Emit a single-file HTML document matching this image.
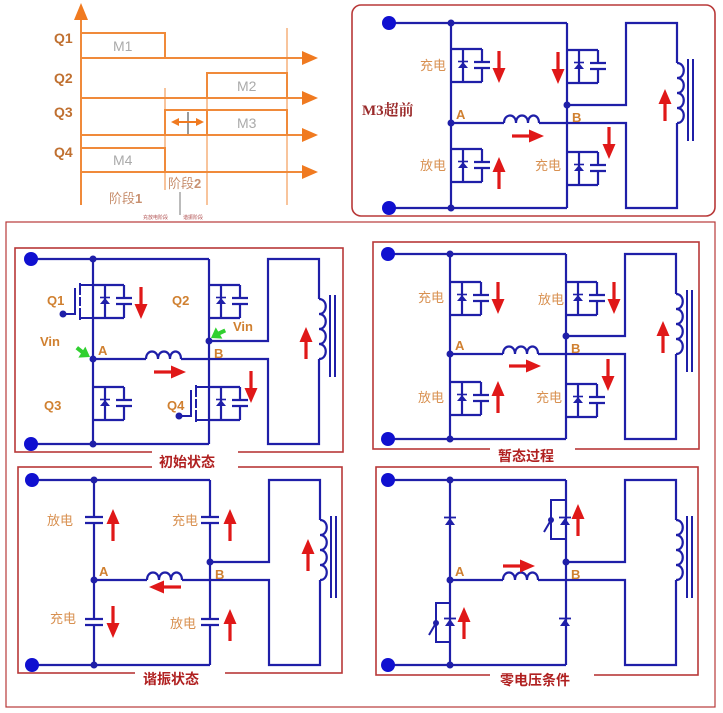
<!DOCTYPE html>
<html><head><meta charset="utf-8">
<style>
html,body{margin:0;padding:0;background:#fff;}
svg{display:block;}
.w{stroke:#1f1fa8;stroke-width:2.2;fill:none;}
.o{font-family:"Liberation Sans","Noto Sans CJK SC",sans-serif;fill:#d89050;font-size:13px;}
.ob{font-family:"Liberation Sans","Noto Sans CJK SC",sans-serif;fill:#d08030;font-size:13px;font-weight:bold;}
.rt{font-family:"Liberation Sans","Noto Sans CJK SC",sans-serif;fill:#b02020;font-size:14px;font-weight:bold;}
.fr{stroke:#b83838;stroke-width:1.6;fill:none;}
.t{stroke:#f08a3a;fill:none;}
</style></head><body>
<svg width="723" height="713" viewBox="0 0 723 713" xmlns="http://www.w3.org/2000/svg">
<defs>
  <g id="sk">
    <path class="w" d="M0,0H178M0,185H178M62,0V185M178,0V185M62,100H115M150,100H237V185H288V100M288,40V0H237V82H178"/>
    <path class="w" d="M115,100c0,-10 12,-10 12,0c0,-10 12,-10 12,0c0,-10 11,-10 11,0"/>
    <path class="w" d="M288,40c9,0 9,15 0,15c9,0 9,15 0,15c9,0 9,15 0,15c9,0 9,15 0,15"/>
    <path class="w" d="M299,36V118M304,36V118" style="stroke-width:2"/>
    <circle cx="0" cy="0" r="7" fill="#1010d0"/>
    <circle cx="0" cy="185" r="7" fill="#1010d0"/>
    <circle cx="62" cy="0" r="3.5" fill="#1f1fa8"/>
    <circle cx="62" cy="185" r="3.5" fill="#1f1fa8"/>
    <circle cx="62" cy="100" r="3.5" fill="#1f1fa8"/>
    <circle cx="178" cy="82" r="3.5" fill="#1f1fa8"/>
    <text x="67" y="96" class="ob">A</text>
    <text x="183" y="99" class="ob">B</text>
  </g>
  <g id="cell">
    <path class="w" d="M0,0H31M0,33H31M12,0V33M31,0V13M23,13H39M23,19H39M31,19V33"/>
    <polygon points="7,19 17,19 12,13" fill="#1f1fa8"/>
    <path class="w" d="M7,12.5H17" style="stroke-width:1.6"/>
  </g>
  <g id="dio">
    <polygon points="-5,3 5,3 0,-4" fill="#1f1fa8"/>
    <path class="w" d="M-6,-4.5H6" style="stroke-width:1.8"/>
  </g>
  <g id="cap">
    <rect x="-3" y="-3" width="6" height="6" fill="#fff"/>
    <path class="w" d="M-9,-3H9M-9,3H9"/>
  </g>
  <g id="au">
    <rect x="-1.6" y="10" width="3.2" height="21" fill="#e01818"/>
    <polygon points="-6.5,14 6.5,14 0,-1" fill="#e01818"/>
  </g>
  <g id="ga">
    <path d="M-16,-2L-5,0" stroke="#30d030" stroke-width="4"/>
    <polygon points="0,0 -9,-7 -10,6" fill="#30d030"/>
  </g>
</defs>

<!-- timing diagram -->
<g>
  <rect x="81" y="33" width="84" height="25" fill="#c9f2cc" class="t" stroke-width="2"/>
  <rect x="207" y="73" width="80" height="25" fill="#c8f2f2" class="t" stroke-width="2"/>
  <rect x="207" y="110" width="80" height="25" fill="#c8f2f2" class="t" stroke-width="2"/>
  <rect x="165" y="110" width="42" height="25" fill="#fbeea0" class="t" stroke-width="2"/>
  <rect x="81" y="148" width="84" height="24" fill="#c9f2cc" class="t" stroke-width="2"/>
  <path class="t" stroke-width="2" d="M81,205V18M81,58H305M81,98H305M81,135H305M81,172H305"/>
  <polygon points="74,20 88,20 81,3" fill="#f07a20"/>
  <polygon points="302,51 302,65 318,58" fill="#f07a20"/>
  <polygon points="302,91 302,105 318,98" fill="#f07a20"/>
  <polygon points="302,128 302,142 318,135" fill="#f07a20"/>
  <polygon points="302,165 302,179 318,172" fill="#f07a20"/>
  <path class="t" stroke-width="1" d="M165,88V190M207,78V205M287,28V205"/>
  <path d="M188,112V134" stroke="#333" stroke-width="1"/>
  <path d="M175,122H200" stroke="#f07a20" stroke-width="2"/>
  <polygon points="171,122 179,118 179,126" fill="#f07a20"/>
  <polygon points="204,122 196,118 196,126" fill="#f07a20"/>
  <path d="M180,192V215" stroke="#555" stroke-width="0.8"/>
  <text x="113" y="51" class="o" style="fill:#aaa;font-size:14px">M1</text>
  <text x="237" y="91" class="o" style="fill:#aaa;font-size:14px">M2</text>
  <text x="237" y="128" class="o" style="fill:#aaa;font-size:14px">M3</text>
  <text x="113" y="165" class="o" style="fill:#aaa;font-size:14px">M4</text>
  <text x="54" y="43" class="ob" style="fill:#c07030;font-size:14px">Q1</text>
  <text x="54" y="83" class="ob" style="fill:#c07030;font-size:14px">Q2</text>
  <text x="54" y="117" class="ob" style="fill:#c07030;font-size:14px">Q3</text>
  <text x="54" y="157" class="ob" style="fill:#c07030;font-size:14px">Q4</text>
  <text x="109" y="203" class="o" style="fill:#c89070">阶段<tspan font-weight="bold">1</tspan></text>
  <text x="168" y="188" class="o" style="fill:#c89070">阶段<tspan font-weight="bold">2</tspan></text>
  <text x="143" y="219" class="o" style="font-size:5px;fill:#b05050">充放电阶段</text>
  <text x="183" y="219" class="o" style="font-size:5px;fill:#b05050">谐振阶段</text>
</g>

<!-- frames -->
<rect x="352" y="5" width="363" height="211" rx="9" class="fr"/>
<rect x="6" y="222" width="709" height="485" class="fr" style="stroke-width:1.2"/>
<rect x="15" y="248" width="328" height="204" class="fr"/>
<rect x="373" y="242" width="326" height="207" class="fr"/>
<rect x="18" y="467" width="324" height="206" class="fr"/>
<rect x="376" y="467" width="322" height="208" class="fr"/>
<rect x="152" y="450" width="86" height="20" fill="#fff"/>
<rect x="490" y="446" width="85" height="20" fill="#fff"/>
<rect x="135" y="668" width="90" height="20" fill="#fff"/>
<rect x="490" y="668" width="104" height="20" fill="#fff"/>
<text x="159" y="467" class="rt">初始状态</text>
<text x="498" y="461" class="rt">暂态过程</text>
<text x="143" y="684" class="rt">谐振状态</text>
<text x="500" y="685" class="rt">零电压条件</text>

<!-- M3 panel -->
<g transform="translate(389,23)">
  <use href="#sk"/>
  <use href="#cell" transform="translate(62,26)"/>
  <use href="#cell" transform="translate(62,126)"/>
  <use href="#cell" transform="translate(178,27)"/>
  <use href="#cell" transform="translate(178,129)"/>
</g>
<use href="#au" transform="translate(499,82) rotate(180)"/>
<use href="#au" transform="translate(558,83) rotate(180)"/>
<use href="#au" transform="translate(499,158)"/>
<use href="#au" transform="translate(609,158) rotate(180)"/>
<use href="#au" transform="translate(543,136) rotate(90)"/>
<use href="#au" transform="translate(665,90)"/>
<text x="420" y="70" class="o">充电</text>
<text x="420" y="170" class="o">放电</text>
<text x="535" y="170" class="o">充电</text>
<text x="362" y="115" style="font-family:'Liberation Serif','Noto Serif CJK SC',serif;font-size:15px;font-weight:bold;fill:#9a2a2a">M3超前</text>

<!-- 初始状态 -->
<g transform="translate(31,259)">
  <use href="#sk"/>
  <use href="#cell" transform="translate(62,26)"/>
  <use href="#cell" transform="translate(62,128)"/>
  <use href="#cell" transform="translate(178,26)"/>
  <use href="#cell" transform="translate(178,128)"/>
  <path class="w" d="M62,26H49M62,59H49M49,24V36M49,38V47M49,49V61M44,29V56M32,55H44" style="stroke-width:2"/>
  <circle cx="32" cy="55" r="3.5" fill="#1f1fa8"/>
  <path class="w" d="M178,128H165M178,161H165M165,126V138M165,140V149M165,151V163M160,131V158M148,157H160" style="stroke-width:2"/>
  <circle cx="148" cy="157" r="3.5" fill="#1f1fa8"/>
</g>
<use href="#au" transform="translate(141,318) rotate(180)"/>
<use href="#au" transform="translate(251,402) rotate(180)"/>
<use href="#au" transform="translate(185,372) rotate(90)"/>
<use href="#au" transform="translate(306,328)"/>
<use href="#ga" transform="translate(90,357) rotate(28)"/>
<use href="#ga" transform="translate(211,338) rotate(145)"/>
<text x="47" y="305" class="ob">Q1</text>
<text x="172" y="305" class="ob">Q2</text>
<text x="44" y="410" class="ob">Q3</text>
<text x="167" y="410" class="ob">Q4</text>
<text x="40" y="346" class="ob">Vin</text>
<text x="233" y="331" class="ob">Vin</text>

<!-- 暂态过程 -->
<g transform="translate(388,254)">
  <use href="#sk"/>
  <use href="#cell" transform="translate(62,28)"/>
  <use href="#cell" transform="translate(62,128)"/>
  <use href="#cell" transform="translate(178,28)"/>
  <use href="#cell" transform="translate(178,130)"/>
</g>
<use href="#au" transform="translate(498,313) rotate(180)"/>
<use href="#au" transform="translate(614,313) rotate(180)"/>
<use href="#au" transform="translate(498,382)"/>
<use href="#au" transform="translate(608,390) rotate(180)"/>
<use href="#au" transform="translate(540,366) rotate(90)"/>
<use href="#au" transform="translate(663,322)"/>
<text x="418" y="302" class="o">充电</text>
<text x="538" y="304" class="o">放电</text>
<text x="418" y="402" class="o">放电</text>
<text x="536" y="402" class="o">充电</text>

<!-- 谐振状态 -->
<g transform="translate(32,480)">
  <use href="#sk"/>
  <use href="#cap" transform="translate(62,40)"/>
  <use href="#cap" transform="translate(62,142)"/>
  <use href="#cap" transform="translate(178,40)"/>
  <use href="#cap" transform="translate(178,142)"/>
</g>
<use href="#au" transform="translate(113,510)"/>
<use href="#au" transform="translate(230,510)"/>
<use href="#au" transform="translate(113,637) rotate(180)"/>
<use href="#au" transform="translate(230,610)"/>
<use href="#au" transform="translate(150,587) rotate(-90)"/>
<use href="#au" transform="translate(308,540)"/>
<text x="47" y="525" class="o">放电</text>
<text x="172" y="525" class="o">充电</text>
<text x="50" y="623" class="o">充电</text>
<text x="170" y="628" class="o">放电</text>

<!-- 零电压条件 -->
<g transform="translate(388,480)">
  <use href="#sk"/>
  <use href="#dio" transform="translate(62,42)"/>
  <use href="#dio" transform="translate(177,143)"/>
  <use href="#dio" transform="translate(177,42)"/>
  <use href="#dio" transform="translate(62,143)"/>
  <path class="w" d="M177,20H163V59H177" style="stroke-width:2"/>
  <path class="w" d="M62,123H48V162H62" style="stroke-width:2"/>
  <path class="w" d="M163,40L156,52M48,143L41,155" style="stroke-width:2"/>
  <circle cx="163" cy="40" r="3" fill="#1f1fa8"/>
  <circle cx="48" cy="143" r="3" fill="#1f1fa8"/>
</g>
<use href="#au" transform="translate(578,505)"/>
<use href="#au" transform="translate(464,608)"/>
<use href="#au" transform="translate(534,566) rotate(90)"/>
</svg>
</body></html>
